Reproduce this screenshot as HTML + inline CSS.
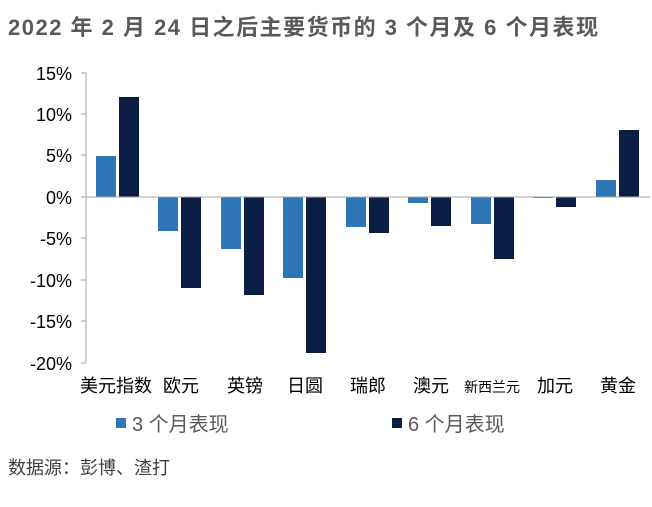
<!DOCTYPE html>
<html><head><meta charset="utf-8"><style>
body{margin:0;background:#fff;width:652px;height:502px;overflow:hidden}
text{font-family:"Liberation Sans","Noto Sans CJK SC",sans-serif;fill:#000}
</style></head><body>
<svg width="652" height="502" xmlns="http://www.w3.org/2000/svg">
<text x="8" y="35" font-size="22" font-weight="bold" textLength="590" lengthAdjust="spacing" style="fill:#595959">2022 年 2 月 24 日之后主要货币的 3 个月及 6 个月表现</text>
<g font-size="18" text-anchor="end">
<text x="72" y="80">15%</text><text x="72" y="121">10%</text><text x="72" y="162">5%</text><text x="72" y="204">0%</text>
<text x="72" y="245">-5%</text><text x="72" y="287">-10%</text><text x="72" y="328">-15%</text><text x="72" y="370">-20%</text>
</g>
<line x1="86" y1="73" x2="86" y2="363" stroke="#a6a6a6"/>
<g stroke="#a6a6a6"><line x1="81" y1="73" x2="86" y2="73"/><line x1="81" y1="114" x2="86" y2="114"/><line x1="81" y1="155" x2="86" y2="155"/><line x1="81" y1="197" x2="86" y2="197"/><line x1="81" y1="238" x2="86" y2="238"/><line x1="81" y1="280" x2="86" y2="280"/><line x1="81" y1="321" x2="86" y2="321"/><line x1="81" y1="363" x2="86" y2="363"/></g>
<g fill="#2e75b6">
<rect x="96" y="156" width="20" height="41"/>
<rect x="158" y="197" width="20" height="34"/>
<rect x="221" y="197" width="20" height="52"/>
<rect x="283" y="197" width="20" height="81"/>
<rect x="346" y="197" width="20" height="30"/>
<rect x="408" y="197" width="20" height="6"/>
<rect x="471" y="197" width="20" height="27"/>
<rect x="533" y="197" width="20" height="1"/>
<rect x="596" y="180" width="20" height="17"/>
</g>
<g fill="#0c1e45">
<rect x="119" y="97" width="20" height="100"/>
<rect x="181" y="197" width="20" height="91"/>
<rect x="244" y="197" width="20" height="98"/>
<rect x="306" y="197" width="20" height="156"/>
<rect x="369" y="197" width="20" height="36"/>
<rect x="431" y="197" width="20" height="29"/>
<rect x="494" y="197" width="20" height="62"/>
<rect x="556" y="197" width="20" height="10"/>
<rect x="619" y="130" width="20" height="67"/>
</g>
<line x1="86" y1="197" x2="650" y2="197" stroke="#a6a6a6"/>
<g font-size="18" text-anchor="middle">
<text x="116" y="392">美元指数</text><text x="181" y="392">欧元</text><text x="245" y="392">英镑</text><text x="305" y="392">日圆</text>
<text x="368" y="392">瑞郎</text><text x="431" y="392">澳元</text><text x="492" y="392" font-size="14">新西兰元</text><text x="555" y="392">加元</text><text x="618" y="392">黄金</text>
</g>
<rect x="116" y="418" width="10" height="10" fill="#2e75b6"/>
<text x="132" y="431" font-size="20" style="fill:#595959">3 个月表现</text>
<rect x="392" y="418" width="10" height="10" fill="#0c1e45"/>
<text x="408" y="431" font-size="20" style="fill:#595959">6 个月表现</text>
<text x="8" y="474" font-size="18" style="fill:#404040">数据源：彭博、渣打</text>
</svg>
</body></html>
